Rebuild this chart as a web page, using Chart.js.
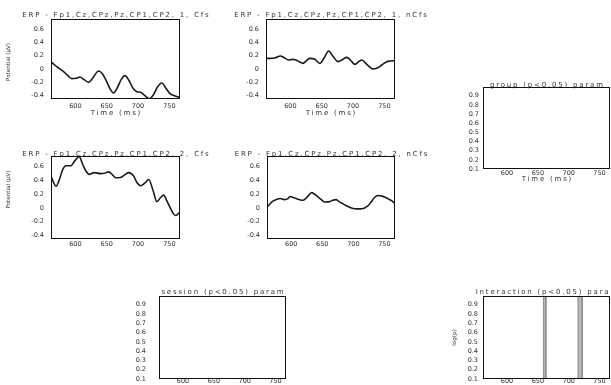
<!DOCTYPE html>
<html>
<head>
<meta charset="utf-8">
<script src="https://cdn.jsdelivr.net/npm/chart.js@4/dist/chart.umd.min.js"></script>
<style>
  html, body { margin: 0; padding: 0; background: #fff; width: 611px; height: 385px; overflow: hidden; }
  canvas { position: absolute; left: 0; top: 0; }
</style>
</head>
<body>
<canvas id="erp1c" width="611" height="385"></canvas>
<canvas id="erp1n" width="611" height="385"></canvas>
<canvas id="erp2c" width="611" height="385"></canvas>
<canvas id="erp2n" width="611" height="385"></canvas>
<canvas id="statGroup" width="611" height="385"></canvas>
<canvas id="statSession" width="611" height="385"></canvas>
<canvas id="statInter" width="611" height="385"></canvas>
<script>
// ---- axes ----
const timeRange = [561, 767];
const timeTicks = [600, 650, 700, 750];
const erpRange = [-0.45, 0.75];
const erpTicks = [-0.4, -0.2, 0, 0.2, 0.4, 0.6];
const pRange = [0.1, 0.995];
const pTicks = [0.1, 0.2, 0.3, 0.4, 0.5, 0.6, 0.7, 0.8, 0.9];

// ---- ERP, session 1, Cfs ----
const time1Cfs = [561, 567, 574, 581, 588, 594, 601, 607, 614, 621, 628, 637, 643, 649, 655, 661, 667, 673, 679, 686, 692, 698, 704, 711, 718, 725, 731, 738, 744, 751, 758, 767];
const erp1Cfs  = [0.11, 0.06, 0.01, -0.04, -0.10, -0.145, -0.14, -0.12, -0.16, -0.20, -0.13, -0.03, -0.07, -0.17, -0.29, -0.36, -0.28, -0.16, -0.10, -0.18, -0.29, -0.34, -0.35, -0.40, -0.445, -0.38, -0.27, -0.21, -0.28, -0.37, -0.40, -0.43];

// ---- ERP, session 1, nCfs ----
const time1nCfs = [561, 568, 575, 584, 590, 597, 603, 608, 614, 620, 626, 631, 639, 647, 654, 661, 668, 676, 683, 690, 697, 703, 709, 714, 722, 732, 738, 743, 749, 754, 760, 767];
const erp1nCfs  = [0.16, 0.16, 0.165, 0.195, 0.17, 0.135, 0.145, 0.14, 0.11, 0.085, 0.13, 0.16, 0.145, 0.085, 0.17, 0.27, 0.19, 0.11, 0.14, 0.175, 0.12, 0.07, 0.11, 0.135, 0.07, 0.0, 0.01, 0.04, 0.08, 0.11, 0.12, 0.125];

// ---- ERP, session 2, Cfs ----
const time2Cfs = [561, 565, 569, 574, 580, 585, 593, 599, 606, 612, 617, 622, 630, 640, 646, 653, 659, 664, 672, 679, 685, 693, 698, 704, 711, 717, 724, 730, 736, 741, 746, 751, 756, 760, 767];
const erp2Cfs  = [0.46, 0.37, 0.31, 0.40, 0.56, 0.61, 0.61, 0.68, 0.74, 0.62, 0.53, 0.485, 0.51, 0.495, 0.50, 0.52, 0.48, 0.435, 0.44, 0.48, 0.51, 0.46, 0.37, 0.32, 0.36, 0.41, 0.25, 0.09, 0.15, 0.185, 0.10, 0.01, -0.08, -0.11, -0.06];

// ---- ERP, session 2, nCfs ----
const time2nCfs = [561, 566, 571, 576, 582, 589, 594, 598, 603, 608, 613, 619, 626, 633, 640, 647, 654, 662, 667, 672, 677, 681, 688, 694, 700, 705, 711, 716, 720, 724, 729, 734, 740, 746, 751, 756, 762, 767];
const erp2nCfs  = [0.01, 0.06, 0.10, 0.12, 0.135, 0.12, 0.13, 0.165, 0.15, 0.135, 0.12, 0.11, 0.16, 0.22, 0.18, 0.13, 0.085, 0.09, 0.11, 0.12, 0.09, 0.07, 0.035, 0.01, -0.01, -0.015, -0.015, -0.01, 0.01, 0.035, 0.09, 0.15, 0.18, 0.17, 0.155, 0.13, 0.10, 0.06];

// ---- interaction: significant time windows (ms) ----
const interSigStart = [659, 715];
const interSigEnd   = [663, 722];

const W = 611, H = 385;
const Y_AXIS_W = 40;
const INK = '#333';
const TICK_FONT = { family: 'DejaVu Sans', size: 6.5 };

// Draws the axes box, the panel title and the axis labels.
const panelText = {
  id: 'panelText',
  afterDraw(chart, args, o) {
    const { ctx, chartArea: a } = chart;
    ctx.save();
    ctx.strokeStyle = '#111';
    ctx.lineWidth = 1;
    ctx.strokeRect(a.left + 0.5, a.top + 0.5, a.right - a.left - 1, a.bottom - a.top - 1);
    ctx.fillStyle = INK;
    ctx.textAlign = 'center';
    ctx.textBaseline = 'middle';
    const sp = 1.8;
    ctx.letterSpacing = sp + 'px';
    ctx.font = '7px "DejaVu Sans"';
    const cx = (a.left + a.right) / 2 + sp / 2;
    ctx.fillText(o.title, cx, a.top - o.titleGap);
    if (o.xlabel) ctx.fillText(o.xlabel, cx, a.bottom + o.xlabelGap);
    if (o.ylabel) {
      ctx.letterSpacing = '0px';
      ctx.font = '5.6px "DejaVu Sans"';
      ctx.translate(o.ylabelX, (a.top + a.bottom) / 2 + o.ylabelShift);
      ctx.rotate(-Math.PI / 2);
      ctx.fillText(o.ylabel, 0, 0);
    }
    ctx.restore();
  }
};

function fmt(v) {
  return v === 0 ? '0' : v.toFixed(1);
}

function makePanel(id, cfg) {
  const b = cfg.box;
  // room under the axes for the time tick labels (limited by the page bottom)
  const xAxisH = Math.min(30, H - b.b);
  return new Chart(document.getElementById(id), {
    type: 'line',
    data: { datasets: cfg.datasets },
    options: {
      responsive: false,
      animation: false,
      events: [],
      layout: {
        padding: { left: b.l - Y_AXIS_W, top: b.t, right: W - b.r, bottom: H - b.b - xAxisH }
      },
      plugins: {
        legend: { display: false },
        tooltip: { enabled: false },
        panelText: cfg.text
      },
      scales: {
        x: {
          type: 'linear',
          min: timeRange[0],
          max: timeRange[1],
          afterBuildTicks: s => { s.ticks = timeTicks.map(v => ({ value: v })); },
          afterFit: s => { s.height = xAxisH; s.paddingLeft = 0; s.paddingRight = 0; },
          grid: { display: false, drawTicks: false },
          border: { display: false },
          ticks: { font: TICK_FONT, color: INK, padding: cfg.xPad, maxRotation: 0, autoSkip: false }
        },
        y: {
          type: 'linear',
          min: cfg.yRange[0],
          max: cfg.yRange[1],
          afterBuildTicks: s => { s.ticks = cfg.yTicks.map(v => ({ value: v })); },
          afterFit: s => { s.width = Y_AXIS_W; s.paddingTop = 0; s.paddingBottom = 0; },
          grid: { display: false, drawTicks: false },
          border: { display: false },
          ticks: { font: TICK_FONT, color: INK, padding: cfg.yPad, autoSkip: false, callback: v => fmt(v) }
        }
      }
    },
    plugins: [panelText]
  });
}

function erpLine(times, values) {
  return {
    data: times.map((t, i) => ({ x: t, y: values[i] })),
    borderColor: '#1a1a1a',
    borderWidth: 1.6,
    pointRadius: 0,
    fill: false,
    cubicInterpolationMode: 'monotone'
  };
}

function sigBands(starts, ends) {
  return starts.map((s, i) => ({
    data: [
      { x: s, y: pRange[0] }, { x: s, y: pRange[1] },
      { x: ends[i], y: pRange[1] }, { x: ends[i], y: pRange[0] }
    ],
    borderColor: '#8e8e8e',
    borderWidth: 1,
    backgroundColor: '#b8b8b8',
    pointRadius: 0,
    tension: 0,
    fill: 'start'
  }));
}

const chanLabel = 'ERP - Fp1,Cz,CPz,Pz,CP1,CP2, ';

makePanel('erp1c', {
  box: { l: 51, t: 19, r: 180, b: 99 },
  yRange: erpRange, yTicks: erpTicks, yPad: 7, xPad: 3.5,
  datasets: [erpLine(time1Cfs, erp1Cfs)],
  text: { title: chanLabel + '1, Cfs', titleGap: 3.7, xlabel: 'Time (ms)', xlabelGap: 14.5,
          ylabel: 'Potential (\u00b5V)', ylabelX: 8.5, ylabelShift: 3 }
});

makePanel('erp1n', {
  box: { l: 266, t: 19, r: 395, b: 99 },
  yRange: erpRange, yTicks: erpTicks, yPad: 7, xPad: 3.5,
  datasets: [erpLine(time1nCfs, erp1nCfs)],
  text: { title: chanLabel + '1, nCfs', titleGap: 3.7, xlabel: 'Time (ms)', xlabelGap: 14.5 }
});

makePanel('erp2c', {
  box: { l: 51, t: 156, r: 180, b: 239 },
  yRange: erpRange, yTicks: erpTicks, yPad: 7, xPad: 1.5,
  datasets: [erpLine(time2Cfs, erp2Cfs)],
  text: { title: chanLabel + '2, Cfs', titleGap: 2.2,
          ylabel: 'Potential (\u00b5V)', ylabelX: 8.5, ylabelShift: -8 }
});

makePanel('erp2n', {
  box: { l: 267, t: 156, r: 395, b: 239 },
  yRange: erpRange, yTicks: erpTicks, yPad: 7, xPad: 1.5,
  datasets: [erpLine(time2nCfs, erp2nCfs)],
  text: { title: chanLabel + '2, nCfs', titleGap: 2.2 }
});

makePanel('statGroup', {
  box: { l: 483, t: 87, r: 610, b: 169 },
  yRange: pRange, yTicks: pTicks, yPad: 4, xPad: 0.5,
  datasets: [],
  text: { title: 'group (p<0.05) param', titleGap: 2.2, xlabel: 'Time (ms)', xlabelGap: 10.5 }
});

makePanel('statSession', {
  box: { l: 159, t: 296, r: 286, b: 379 },
  yRange: pRange, yTicks: pTicks, yPad: 13, xPad: -2,
  datasets: [],
  text: { title: 'session (p<0.05) param', titleGap: 3.5 }
});

makePanel('statInter', {
  box: { l: 483, t: 296, r: 610, b: 379 },
  yRange: pRange, yTicks: pTicks, yPad: 5, xPad: -2,
  datasets: sigBands(interSigStart, interSigEnd),
  text: { title: 'Interaction (p<0.05) param', titleGap: 3.5,
          ylabel: 'log(p)', ylabelX: 455, ylabelShift: 0 }
});
</script>
</body>
</html>
